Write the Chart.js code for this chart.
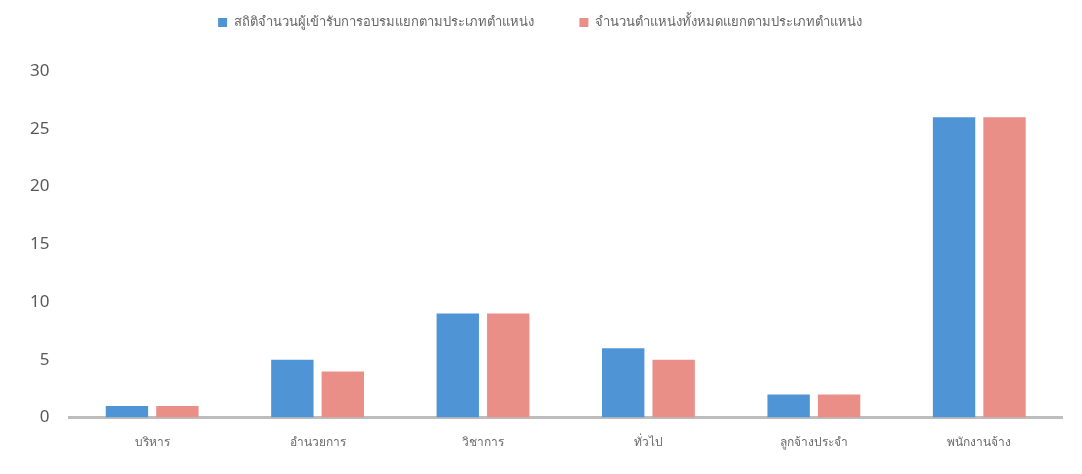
<!DOCTYPE html>
<html lang="th">
<head>
    <meta charset="UTF-8">
    <title>สถิติจำนวนผู้เข้ารับการอบรม</title>
    <script src="https://cdn.jsdelivr.net/npm/chart.js"></script>
    <style>
        html, body { margin: 0; padding: 0; background: #ffffff; overflow: hidden; }
        .wrap { position: relative; width: 1082px; height: 474px; }
    </style>
</head>
<body>
    <div class="wrap">
        <canvas id="chart"></canvas>
    </div>
    <script>
        // ข้อมูลของกราฟ
        const categories = ['บริหาร', 'อำนวยการ', 'วิชาการ', 'ทั่วไป', 'ลูกจ้างประจำ', 'พนักงานจ้าง'];
        const trainedCounts = [1, 5, 9, 6, 2, 26];
        const positionCounts = [1, 4, 9, 5, 2, 26];
        const seriesNames = ['สถิติจำนวนผู้เข้ารับการอบรมแยกตามประเภทตำแหน่ง', 'จำนวนตำแหน่งทั้งหมดแยกตามประเภทตำแหน่ง'];
        const yTicks = [0, 5, 10, 15, 20, 25, 30];

        const fontFamily = "'Noto Sans', 'DejaVu Sans', sans-serif";

        // extra space under the legend
        const legendGap = {
            id: 'legendGap',
            beforeInit(chart) {
                const fit = chart.legend.fit;
                chart.legend.fit = function () {
                    fit.bind(chart.legend)();
                    this.height += 32;
                };
            }
        };

        new Chart(document.getElementById('chart'), {
            type: 'bar',
            data: {
                labels: categories,
                datasets: [
                    { label: seriesNames[0], data: trainedCounts, backgroundColor: '#4f95d6' },
                    { label: seriesNames[1], data: positionCounts, backgroundColor: '#e98f88' }
                ]
            },
            options: {
                responsive: true,
                maintainAspectRatio: false,
                animation: false,
                categoryPercentage: 0.61,
                barPercentage: 0.84,
                layout: { padding: { left: 18, right: 20, top: 4, bottom: 14 } },
                plugins: {
                    legend: {
                        position: 'top',
                        labels: {
                            boxWidth: 9, boxHeight: 9, padding: 12,
                            color: '#666666',
                            font: { family: fontFamily, size: 13 },
                            // wider spacing between the two legend entries
                            generateLabels(chart) {
                                const items = Chart.defaults.plugins.legend.labels.generateLabels(chart);
                                items.forEach((it, i) => { if (i === 0) it.text += '          '; });
                                return items;
                            }
                        }
                    },
                    tooltip: { enabled: false }
                },
                scales: {
                    x: {
                        grid: { display: false },
                        border: { color: '#bdbdbd', width: 3 },
                        ticks: { color: '#6b6b6b', padding: 10, font: { family: fontFamily, size: 12 } }
                    },
                    y: {
                        min: 0, max: 30,
                        afterBuildTicks: axis => { axis.ticks = yTicks.map(v => ({ value: v })); },
                        grid: { display: false },
                        border: { display: false },
                        ticks: { color: '#595959', padding: 12, font: { family: fontFamily, size: 17 } }
                    }
                }
            },
            plugins: [legendGap]
        });
    </script>
</body>
</html>
